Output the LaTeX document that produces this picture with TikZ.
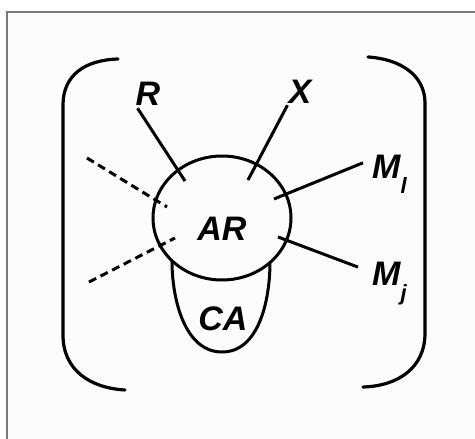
\documentclass[tikz,border=0pt]{standalone}
\usepackage{fontspec}
\setmainfont{Liberation Sans}
\usepackage{xcolor}
\usepackage{tikz}
\usetikzlibrary{shapes.geometric}
\definecolor{panelbg}{HTML}{FCFCFC}
\definecolor{panelrule}{HTML}{7A7A7A}
\newcommand\smallsub{\fontsize{22}{22}\selectfont}

\begin{document}
\begin{tikzpicture}[
  x=1pt, y=-1pt,
  lbl/.style={inner sep=0pt, font=\fontsize{34}{36}\selectfont\bfseries\itshape},
  spoke/.style={line width=3pt},
  faint/.style={spoke, dash pattern=on 8pt off 5pt},
  brk/.style={line width=3.2pt, line cap=round},
]
\useasboundingbox (0,0) rectangle (475,439);
\fill[white] (0,0) rectangle (475,439);
\fill[panelbg] (7,12) rectangle (475,439);
\draw[panelrule, line width=2pt] (7,439) -- (7,12) -- (475,12);
\draw[brk] (118,59) .. controls (85,60) and (63,75) .. (63,105) -- (63,335) .. controls (63,370) and (90,388) .. (125,390);
\draw[brk] (368,57) .. controls (400,59) and (425,75) .. (425,103) -- (425,333) .. controls (425,368) and (398,386) .. (363,387);
\node[ellipse, draw, line width=3pt, minimum width=138pt, minimum height=124pt] (ar) at (222,218) {};
\node[lbl, anchor=base] (arlbl) at (222,240) {AR};
\draw[line width=3pt] (172,261) .. controls (172,300) and (185,352) .. (222,352) .. controls (259,352) and (270,300) .. (270,262);
\node[lbl, anchor=base] (ca) at (223,330) {CA};
\node[lbl, anchor=base] (r) at (148,105) {R};
\node[lbl, anchor=base] (x) at (300,103) {X};
\node[lbl, anchor=base west] (ml) at (372,178) {M\raisebox{-15pt}{\smallsub l}};
\node[lbl, anchor=base west] (mj) at (372,285) {M\raisebox{-15pt}{\smallsub j}};
\coordinate (rin) at (185,181);
\coordinate (xin) at (248,180);
\coordinate (mlin) at (274,199);
\coordinate (mjin) at (278,237);
\coordinate (upout) at (87,158);
\coordinate (upin) at (167,207);
\coordinate (lowout) at (89,282);
\coordinate (lowin) at (175,238);
\draw[spoke] ([shift={(2,3)}]r.south west) -- (rin);
\draw[spoke] ([shift={(-1,2)}]x.south west) -- (xin);
\draw[spoke] ([shift={(-9,-11)}]ml.west) -- (mlin);
\draw[spoke] ([shift={(-14,-16)}]mj.west) -- (mjin);
\draw[faint] (upout) -- (upin);
\draw[faint] (lowout) -- (lowin);
\end{tikzpicture}
\end{document}
